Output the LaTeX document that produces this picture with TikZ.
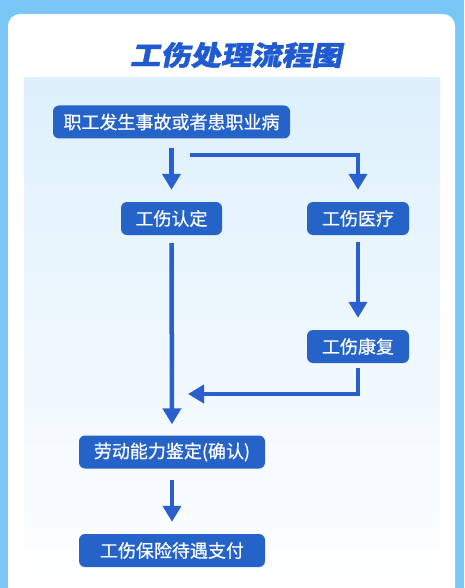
\documentclass[tikz,border=0pt]{standalone}
\usepackage{fontspec}
\usetikzlibrary{arrows.meta}
\newfontfamily\cjk[FakeBold=0.6]{Noto Sans CJK SC}
\newfontfamily\titlecjk[FakeSlant=0.2,FakeStretch=1.12,FakeBold=1.5]{Noto Sans CJK SC}
\definecolor{skyblue}{HTML}{78C6F6}
\definecolor{panelblue}{HTML}{DDF0FC}
\definecolor{flowblue}{HTML}{2563C8}
\definecolor{arrowblue}{HTML}{2A5FCF}
\definecolor{titleblue}{HTML}{1F5AD1}
\begin{document}
\begin{tikzpicture}[
        x=1pt, y=-1pt,
        box/.style={fill=flowblue, text=white, rounded corners=6pt, inner sep=0pt, minimum height=33pt, font=\cjk\fontsize{18pt}{20pt}\selectfont},
        flow/.style={draw=arrowblue, line width=4.5pt, -{Triangle[width=18pt,length=16pt]}}
    ]
        \useasboundingbox (0,0) rectangle (464,588);
        \fill[skyblue] (0,0) rectangle (464,588);
        \fill[white, rounded corners=12pt] (8,600) -- (8,14) -- (455,14) -- (455,600);
        \shade[top color=panelblue, bottom color=white] (24,78) rectangle (440,600);

        \node[text=titleblue, font=\titlecjk\bfseries\fontsize{27pt}{30pt}\selectfont] (title) at (236,55) {工伤处理流程图};

        \node[box, minimum width=237pt] (accident) at (171.5,122) {职工发生事故或者患职业病};
        \node[box, minimum width=101pt] (identify) at (171.5,218.5) {工伤认定};
        \node[box, minimum width=102pt] (treat) at (358,218.5) {工伤医疗};
        \node[box, minimum width=102pt] (rehab) at (358,346.5) {工伤康复};
        \node[box, minimum width=186pt] (assess) at (172,452) {劳动能力鉴定(确认)};
        \node[box, minimum width=186pt] (pay) at (172,550.5) {工伤保险待遇支付};

        \coordinate (split) at (190,155);
        \coordinate (merge) at (188,394);

        \draw[flow, shorten <=9pt, shorten >=12pt] (accident) -- (identify);
        \draw[flow, shorten >=12pt] (split) -| (treat);
        \draw[flow, shorten <=8pt, shorten >=11pt] (identify) -- (assess);
        \draw[flow, shorten <=7pt, shorten >=12pt] (treat) -- (rehab);
        \draw[flow, shorten <=5pt] (rehab) |- (merge);
        \draw[flow, shorten <=11pt, shorten >=12pt] (assess) -- (pay);
    \end{tikzpicture}
\end{document}
